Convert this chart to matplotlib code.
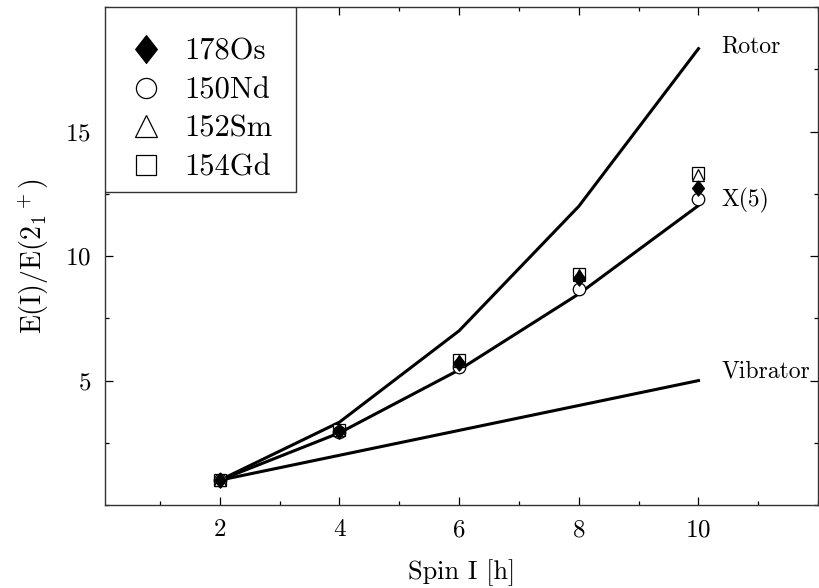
import matplotlib
matplotlib.use("Agg")
import matplotlib.pyplot as plt
from matplotlib.ticker import MultipleLocator
from matplotlib.patches import Rectangle

plt.rcParams['font.family'] = 'serif'
plt.rcParams['font.serif'] = ['cmr10']
plt.rcParams['mathtext.fontset'] = 'cm'
plt.rcParams['axes.formatter.use_mathtext'] = True

spin = [2, 4, 6, 8, 10]
rotor = [1.0, 3.33, 7.0, 12.0, 18.33]
x5 = [1.0, 2.90, 5.43, 8.48, 12.03]
vibrator = [1.0, 2.0, 3.0, 4.0, 5.0]

os178 = [1.0, 2.98, 5.72, 9.10, 12.74]
nd150 = [1.0, 2.93, 5.53, 8.68, 12.28]
sm152 = [1.0, 3.01, 5.80, 9.24, 13.24]
gd154 = [1.0, 3.01, 5.83, 9.30, 13.32]

diamond = [(0, 1), (0.78, 0), (0, -1), (-0.78, 0), (0, 1)]

fig = plt.figure(figsize=(8.19, 5.88), dpi=100)
ax = fig.add_axes([0.128, 0.141, 0.871, 0.847])

for ys in (rotor, x5, vibrator):
    ax.plot(spin, ys, color='black', lw=2.2, zorder=2)

ms = 9
ax.plot(spin, gd154, ls='none', marker='s', ms=ms, mfc='white', mec='black', mew=0.9, label='154Gd', zorder=3)
ax.plot(spin, sm152, ls='none', marker='^', ms=ms, mfc='white', mec='black', mew=0.9, label='152Sm', zorder=4)
ax.plot(spin, nd150, ls='none', marker='o', ms=ms, mfc='white', mec='black', mew=0.9, label='150Nd', zorder=3)
ax.plot(spin, os178, ls='none', marker=diamond, ms=11, mfc='black', mec='black', mew=0.9, label='178Os', zorder=5)

ax.text(10.38, rotor[-1] + 0.1, 'Rotor', fontsize=17, va='center', ha='left')
ax.text(10.38, x5[-1] + 0.2, 'X(5)', fontsize=17, va='center', ha='left')
ax.text(10.38, vibrator[-1] + 0.35, 'Vibrator', fontsize=17, va='center', ha='left')

ax.set_xlim(0.08, 12)
ax.set_ylim(0, 20)
ax.set_xticks([2, 4, 6, 8, 10])
ax.set_yticks([5, 10, 15])
ax.xaxis.set_minor_locator(MultipleLocator(1))
ax.yaxis.set_minor_locator(MultipleLocator(2.5))
ax.tick_params(which='both', direction='in', top=True, right=True, labelsize=18)
ax.tick_params(axis='x', which='major', pad=10)
ax.tick_params(axis='y', which='major', pad=10)
ax.tick_params(which='major', length=6, width=0.9)
ax.tick_params(which='minor', length=3, width=0.9)
for s in ax.spines.values():
    s.set_linewidth(1.0)
    s.set_color('#333333')

ax.set_xlabel('Spin I [h]', fontsize=19, labelpad=13)
ax.set_ylabel(r'$\mathrm{E(I)/E(2_1{}^+)}$', fontsize=20, labelpad=10)

# legend frame
ax.add_patch(Rectangle((0, 0.6285), 0.2675, 0.3715, transform=ax.transAxes,
                       facecolor='white', edgecolor='#333333', lw=1.0, zorder=6))

handles, labels = ax.get_legend_handles_labels()
order = [3, 2, 1, 0]
leg = ax.legend([handles[i] for i in order], [labels[i] for i in order],
                loc='upper left', bbox_to_anchor=(0.0336, 0.9378), fontsize=22, markerscale=1.0,
                frameon=False, borderpad=0, labelspacing=0.37, handletextpad=0.7,
                handlelength=1.1, borderaxespad=0)
leg.set_zorder(7)
for h, size in zip(leg.legend_handles, [20, 14.5, 15.5, 14.5]):
    h.set_markersize(size)

fig.savefig('out.png', dpi=100)
